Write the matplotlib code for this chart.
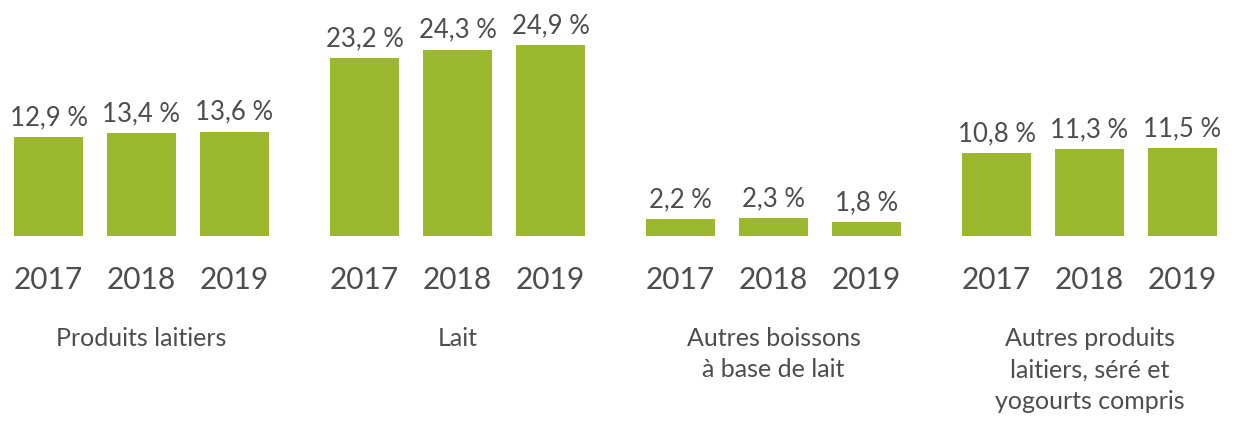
import matplotlib.pyplot as plt
import numpy as np

# Data
categories = ["Produits laitiers", "Lait", "Autres boissons\nà base de lait",
              "Autres produits\nlaitiers, séré et\nyogourts compris"]
years = ["2017", "2018", "2019"]
values = [
    [12.9, 13.4, 13.6],
    [23.2, 24.3, 24.9],
    [2.2, 2.3, 1.8],
    [10.8, 11.3, 11.5],
]

green = "#9bb82f"
text_col = "#4d4d4d"
font = "Lato"

fig = plt.figure(figsize=(12.39, 4.21), dpi=100)
ax = fig.add_axes([0, 0, 1, 1])

group_step = 3.4
bar_w = 0.74
for g, (cat, vals) in enumerate(zip(categories, values)):
    xs = g * group_step + np.arange(len(vals))
    ax.bar(xs, vals, width=bar_w, color=green)
    for x, v, yr in zip(xs, vals, years):
        label = f"{v:.1f} %".replace(".", ",")
        ax.annotate(label, (x, v), xytext=(0, 5), textcoords="offset points",
                    ha="center", va="bottom", fontsize=18.5, color=text_col,
                    family=font)
        ax.text(x, -5.8, yr, ha="center", va="center", fontsize=21.5,
                color=text_col, family=font)
    ax.text(xs[1], -11.8, cat, ha="center", va="top", fontsize=18,
            color=text_col, family=font, linespacing=1.47)

ax.set_xlim(-0.522, 12.808)
ax.set_ylim(-24.12, 30.77)
ax.axis("off")

fig.savefig("out.png", dpi=100)
